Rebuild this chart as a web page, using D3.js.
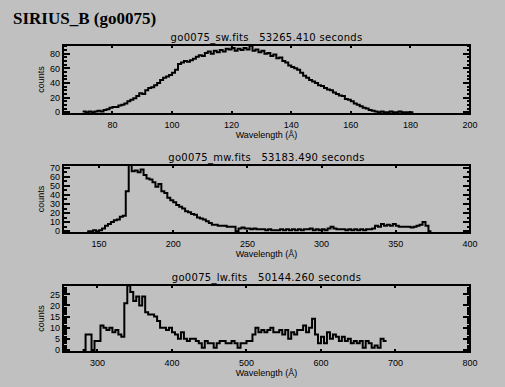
<!DOCTYPE html>
<html><head><meta charset="utf-8">
<script src="https://cdn.jsdelivr.net/npm/d3@7"></script>
<style>body{margin:0;background:#c0c0c0;overflow:hidden}</style>
</head><body><svg id="c" width="505" height="387"></svg>
<script>
const mainTitle = "SIRIUS_B (go0075)";
const panelTitles = ["go0075_sw.fits   53265.410 seconds",
                     "go0075_mw.fits   53183.490 seconds",
                     "go0075_lw.fits   50144.260 seconds"];
const xLabel = "Wavelength (Å)";
const yLabel = "counts";

// short-wave channel: bins start at 70 Å, 1 Å wide
const swStart = 70, swStep = 1;
const swCounts = [1,0,1,0,1,2,1,3,4,6,
  7,7,9,10,12,15,17,19,22,26,
  25,30,33,34,37,40,44,47,49,51,
  54,58,66,68,70,69,71,73,76,78,
  77,81,83,80,84,82,85,83,87,86,
  88,84,87,85,88,86,91,84,86,82,
  84,80,81,77,79,74,75,70,68,64,
  62,60,58,54,50,47,44,42,40,37,
  36,33,31,30,27,25,23,22,18,17,
  15,12,10,8,6,5,3,2,1,0,
  1,0,0,1,0,0,1,0,0,0,0];
const swXDomain = [63.4, 200], swYDomain = [-2.5, 92];
const swXTicks = [80,100,120,140,160,180,200];
const swYTicks = [0,20,40,60,80];
const swYMinor = 5;

// medium-wave channel: bins start at 142 Å, 2 Å wide
const mwStart = 142, mwStep = 2;
const mwCounts = [0,0,1,0,1,3,6,8,10,12,
  13,16,17,44,74,66,67,65,68,62,
  58,57,54,49,52,44,42,37,34,32,
  29,27,25,22,21,19,18,15,14,13,
  11,9,7,7,6,6,6,5,5,5,
  0,3,4,3,3,2,3,2,2,2,
  1,2,1,1,1,2,1,2,1,2,
  1,2,1,2,2,3,1,2,1,2,
  1,3,5,3,2,2,2,1,2,1,
  2,1,2,1,2,2,3,6,5,8,
  6,7,6,8,6,5,5,5,5,4,
  5,6,7,10,6,0];
const mwXDomain = [125.7, 400], mwYDomain = [-2, 73];
const mwXTicks = [150,200,250,300,350,400];
const mwYTicks = [0,10,20,30,40,50,60,70];
const mwYMinor = 5;

// long-wave channel: bins start at 280 Å, 4 Å wide
const lwStart = 280, lwStep = 4;
const lwCounts = [0,7,7,0,4,4,11,10,9,10,
  8,9,7,6,21,29,26,22,24,20,
  24,17,16,16,15,13,10,10,9,10,
  8,7,5,8,5,4,5,5,4,3,
  1,4,3,3,1,3,4,4,3,3,
  4,3,1,3,3,4,4,7,10,8,
  9,8,9,10,8,8,9,7,9,5,
  8,7,9,9,11,8,10,14,7,3,
  6,3,8,5,7,6,4,6,4,5,
  3,4,3,4,1,4,3,1,2,1,
  5,4];
const lwXDomain = [253.7, 800], lwYDomain = [-0.9, 29.2];
const lwXTicks = [300,400,500,600,700,800];
const lwYTicks = [0,5,10,15,20,25];
const lwYMinor = 1;

const panels = [
  {title: panelTitles[0], start: swStart, step: swStep, counts: swCounts, xd: swXDomain, yd: swYDomain, xt: swXTicks, yt: swYTicks, ym: swYMinor},
  {title: panelTitles[1], start: mwStart, step: mwStep, counts: mwCounts, xd: mwXDomain, yd: mwYDomain, xt: mwXTicks, yt: mwYTicks, ym: mwYMinor},
  {title: panelTitles[2], start: lwStart, step: lwStep, counts: lwCounts, xd: lwXDomain, yd: lwYDomain, xt: lwXTicks, yt: lwYTicks, ym: lwYMinor}
];

const frames = [{top: 45, bottom: 114}, {top: 165, bottom: 233}, {top: 285, bottom: 352}];
const left = 63, right = 470;

const svg = d3.select("#c");
svg.append("rect").attr("width", 505).attr("height", 387).attr("fill", "#c0c0c0");

svg.append("text").attr("x", 13).attr("y", 24)
  .attr("font-family", "Liberation Serif, Times New Roman, serif")
  .attr("font-weight", "bold").attr("font-size", 17).attr("fill", "#000")
  .text(mainTitle);

const sans = "Liberation Sans, Arial, sans-serif";

panels.forEach((p, i) => {
  const f = frames[i];
  const x = d3.scaleLinear().domain(p.xd).range([left, right]);
  const y = d3.scaleLinear().domain(p.yd).range([f.bottom, f.top]);
  const g = svg.append("g");

  // title
  g.append("text").attr("x", (left + right) / 2).attr("y", f.top - 4)
    .attr("text-anchor", "middle").attr("font-family", "DejaVu Sans, sans-serif")
    .attr("font-size", 10).attr("letter-spacing", "0.3px").attr("xml:space", "preserve")
    .style("white-space", "pre").text(p.title);

  // data histogram
  const clipId = "clip" + i;
  svg.append("clipPath").attr("id", clipId).append("rect")
    .attr("x", left).attr("y", f.top).attr("width", right - left).attr("height", f.bottom - f.top);
  const pts = p.counts.map((c, k) => [p.start + k * p.step, c]);
  pts.push([p.start + p.counts.length * p.step, p.counts[p.counts.length - 1]]);
  const line = d3.line().x(d => x(d[0])).y(d => y(d[1])).curve(d3.curveStepAfter);
  g.append("path").datum(pts).attr("d", line).attr("fill", "none")
    .attr("stroke", "#000").attr("stroke-width", 2).attr("clip-path", `url(#${clipId})`);

  // y ticks (inward, both sides)
  const yMinorTicks = d3.range(Math.ceil(p.yd[0] / p.ym) * p.ym, p.yd[1] + 1e-9, p.ym)
    .filter(v => !p.yt.includes(v));
  const tk = g.append("g").attr("stroke", "#000").attr("shape-rendering", "crispEdges");
  p.yt.forEach(v => {
    tk.append("line").attr("x1", left).attr("x2", left + 7).attr("y1", Math.round(y(v))).attr("y2", Math.round(y(v))).attr("stroke-width", 2);
    tk.append("line").attr("x1", right).attr("x2", right - 7).attr("y1", Math.round(y(v))).attr("y2", Math.round(y(v))).attr("stroke-width", 2);
  });
  yMinorTicks.forEach(v => {
    tk.append("line").attr("x1", left).attr("x2", left + 3.5).attr("y1", Math.round(y(v))).attr("y2", Math.round(y(v))).attr("stroke-width", 1.5);
    tk.append("line").attr("x1", right).attr("x2", right - 3.5).attr("y1", Math.round(y(v))).attr("y2", Math.round(y(v))).attr("stroke-width", 1.5);
  });
  // x ticks (inward, top and bottom)
  p.xt.forEach(v => {
    tk.append("line").attr("x1", Math.round(x(v))).attr("x2", Math.round(x(v))).attr("y1", f.bottom).attr("y2", f.bottom - 3).attr("stroke-width", 1.5);
    tk.append("line").attr("x1", Math.round(x(v))).attr("x2", Math.round(x(v))).attr("y1", f.top).attr("y2", f.top + 3).attr("stroke-width", 1.5);
  });

  // frame
  g.append("rect").attr("x", left).attr("y", f.top).attr("width", right - left).attr("height", f.bottom - f.top)
    .attr("fill", "none").attr("stroke", "#000").attr("stroke-width", 2.5).attr("shape-rendering", "crispEdges");

  // tick labels
  p.xt.forEach(v => {
    g.append("text").attr("x", x(v)).attr("y", f.bottom + 14).attr("text-anchor", "middle")
      .attr("font-family", sans).attr("font-size", 9).text(v);
  });
  p.yt.forEach(v => {
    g.append("text").attr("x", 60).attr("y", y(v) + 3.3).attr("text-anchor", "end")
      .attr("font-family", sans).attr("font-size", 9).text(v);
  });

  // axis labels
  g.append("text").attr("x", (left + right) / 2).attr("y", f.bottom + 24).attr("text-anchor", "middle")
    .attr("font-family", sans).attr("font-size", 9).text(xLabel);
  g.append("text").attr("transform", `translate(44,${(f.top + f.bottom) / 2}) rotate(-90)`)
    .attr("text-anchor", "middle").attr("font-family", sans).attr("font-size", 9).text(yLabel);
});
</script></body></html>
